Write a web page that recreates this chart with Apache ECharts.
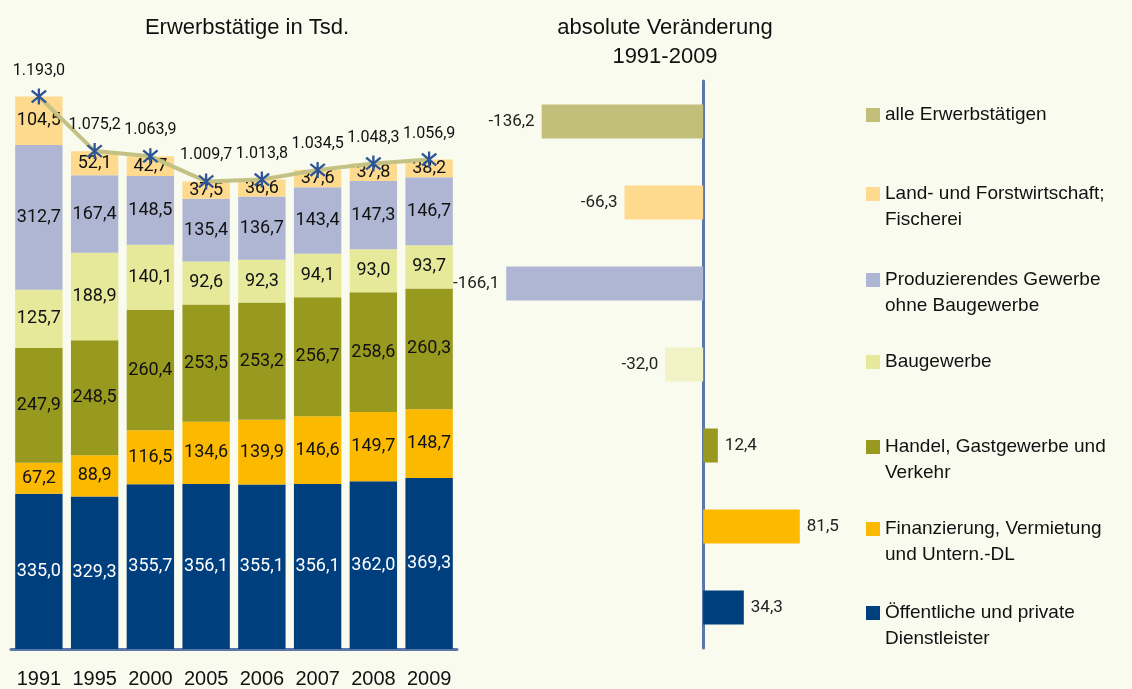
<!DOCTYPE html>
<html>
<head>
<meta charset="utf-8">
<title>Erwerbstätige</title>
<script src="https://cdn.jsdelivr.net/npm/echarts@6/dist/echarts.min.js"></script>
<style>
  html, body { margin: 0; padding: 0; background: #fafbef; }
  #chart { width: 1132px; height: 689px; }
</style>
</head>
<body>
<div id="chart"></div>
<script>
// Jahre
const years = ['1991', '1995', '2000', '2005', '2006', '2007', '2008', '2009']

// Erwerbstätige in Tsd. nach Wirtschaftsbereich (von unten nach oben gestapelt)
const oeffentlich = [335.0, 329.3, 355.7, 356.1, 355.1, 356.1, 362.0, 369.3]
const finanzierung = [67.2, 88.9, 116.5, 134.6, 139.9, 146.6, 149.7, 148.7]
const handel = [247.9, 248.5, 260.4, 253.5, 253.2, 256.7, 258.6, 260.3]
const baugewerbe = [125.7, 188.9, 140.1, 92.6, 92.3, 94.1, 93.0, 93.7]
const produzierend = [312.7, 167.4, 148.5, 135.4, 136.7, 143.4, 147.3, 146.7]
const landwirtschaft = [104.5, 52.1, 42.7, 37.5, 36.6, 37.6, 37.8, 38.2]
const alle = [1193.0, 1075.2, 1063.9, 1009.7, 1013.8, 1034.5, 1048.3, 1056.9]

// absolute Veränderung 1991-2009
const changeNames = [
  'alle Erwerbstätigen',
  'Land- und Forstwirtschaft; Fischerei',
  'Produzierendes Gewerbe ohne Baugewerbe',
  'Baugewerbe',
  'Handel, Gastgewerbe und Verkehr',
  'Finanzierung, Vermietung und Untern.-DL',
  'Öffentliche und private Dienstleister'
]
const changeValues = [-136.2, -66.3, -166.1, -32.0, 12.4, 81.5, 34.3]
const changeColors = ['#c2bf7a', '#feda8e', '#afb6d3', '#f1f2c6', '#989a1f', '#fbba00', '#003f7d']

const fontLabel = 'Roboto, "Liberation Sans", sans-serif'
const fontText = '"Liberation Sans", Arial, sans-serif'

// deutsches Zahlenformat: 1.193,0
function fmt(v) {
  const s = Number(v).toFixed(1).split('.')
  return s[0].replace(/\B(?=(\d{3})+(?!\d))/g, '.') + ',' + s[1]
}

// Sternchen-Marker
const asterisk = 'path://M8.7,0L11.3,0L11.3,20L8.7,20Z' +
  'M1,3.6L2.8,1.6L19,16.4L17.2,18.4Z' +
  'M17.2,1.6L19,3.6L2.8,18.4L1,16.4Z'

function stackSeries(name, data, color, labelColor) {
  return {
    name: name,
    type: 'bar',
    stack: 'tsd',
    xAxisIndex: 0,
    yAxisIndex: 0,
    barWidth: '85%',
    data: data,
    itemStyle: { color: color },
    label: {
      show: true,
      position: 'inside',
      color: labelColor || '#111',
      fontSize: 18,
      fontFamily: fontLabel,
      formatter: p => fmt(p.value)
    }
  }
}

// Legende: eine Komponente je Eintrag, damit die Zeilen zu den Balken rechts passen
const legendItems = [
  { name: 'alle Erwerbstätigen', text: 'alle Erwerbstätigen', top: 102, color: '#c2bf7a' },
  { name: 'Land- und Forstwirtschaft; Fischerei', text: '\nLand- und Forstwirtschaft;\nFischerei', top: 155 },
  { name: 'Produzierendes Gewerbe ohne Baugewerbe', text: '\nProduzierendes Gewerbe\nohne Baugewerbe', top: 241 },
  { name: 'Baugewerbe', text: 'Baugewerbe', top: 349 },
  { name: 'Handel, Gastgewerbe und Verkehr', text: '\nHandel, Gastgewerbe und\nVerkehr', top: 408 },
  { name: 'Finanzierung, Vermietung und Untern.-DL', text: '\nFinanzierung, Vermietung\nund Untern.-DL', top: 490 },
  { name: 'Öffentliche und private Dienstleister', text: '\nÖffentliche und private\nDienstleister', top: 574 }
]

const chart = echarts.init(document.getElementById('chart'))

chart.setOption({
  backgroundColor: '#fafbef',
  animation: false,
  title: [{
    text: 'Erwerbstätige in Tsd.',
    left: 247,
    top: 15,
    textAlign: 'center',
    padding: 0,
    textStyle: { fontSize: 22, fontWeight: 'normal', color: '#111', fontFamily: fontText, lineHeight: 26 }
  }, {
    text: 'absolute Veränderung\n1991-2009',
    left: 665,
    top: 13,
    textAlign: 'center',
    padding: 0,
    textStyle: { fontSize: 22, fontWeight: 'normal', color: '#111', fontFamily: fontText, lineHeight: 29 }
  }],
  legend: legendItems.map(it => ({
    left: 866,
    top: it.top,
    padding: 0,
    orient: 'vertical',
    icon: 'rect',
    itemWidth: 14,
    itemHeight: 14,
    selectedMode: false,
    data: [it.color ? { name: it.name, icon: 'rect', itemStyle: { color: it.color } } : it.name],
    formatter: () => it.text,
    textStyle: { fontSize: 19, lineHeight: 26, color: '#111', fontFamily: fontText }
  })),
  grid: [
    { left: 11, right: 675, top: 47, bottom: 39 },
    { left: 466, right: 251, top: 81, bottom: 41 }
  ],
  xAxis: [{
    type: 'category',
    gridIndex: 0,
    data: years,
    axisLine: { lineStyle: { color: '#5b76a8', width: 3 } },
    axisTick: { show: false },
    axisLabel: { interval: 0, hideOverlap: false, fontSize: 20, color: '#111', margin: 20, fontFamily: fontText }
  }, {
    type: 'value',
    gridIndex: 1,
    min: -200,
    max: 150,
    show: false
  }],
  yAxis: [{
    type: 'value',
    gridIndex: 0,
    min: 0,
    max: 1300,
    show: false
  }, {
    type: 'category',
    gridIndex: 1,
    inverse: true,
    data: changeNames,
    axisLine: { onZero: true, lineStyle: { color: '#5b76a8', width: 3 } },
    axisTick: { show: false },
    axisLabel: { show: false }
  }],
  series: [
    stackSeries('Öffentliche und private Dienstleister', oeffentlich, '#003f7d', '#fff'),
    stackSeries('Finanzierung, Vermietung und Untern.-DL', finanzierung, '#fbba00'),
    stackSeries('Handel, Gastgewerbe und Verkehr', handel, '#989a1f'),
    stackSeries('Baugewerbe', baugewerbe, '#e6e89a'),
    stackSeries('Produzierendes Gewerbe ohne Baugewerbe', produzierend, '#afb6d3'),
    stackSeries('Land- und Forstwirtschaft; Fischerei', landwirtschaft, '#feda8e'),
    {
      name: 'alle Erwerbstätigen',
      type: 'line',
      xAxisIndex: 0,
      yAxisIndex: 0,
      data: alle,
      z: 5,
      symbol: asterisk,
      symbolSize: 16,
      lineStyle: { color: '#c4c184', width: 4 },
      itemStyle: { color: '#2c5599' },
      label: {
        show: true,
        position: 'top',
        distance: 10,
        color: '#111',
        fontSize: 16,
        fontFamily: fontLabel,
        formatter: p => fmt(p.value)
      }
    },
    {
      name: 'absolute Veränderung 1991-2009',
      type: 'bar',
      xAxisIndex: 1,
      yAxisIndex: 1,
      barWidth: '42%',
      data: changeValues.map((v, i) => ({
        value: v,
        itemStyle: { color: changeColors[i] },
        label: { position: v < 0 ? 'left' : 'right' }
      })),
      label: {
        show: true,
        distance: 7,
        color: '#222',
        fontSize: 17,
        fontFamily: fontLabel,
        formatter: p => fmt(p.value)
      }
    }
  ]
})
</script>
</body>
</html>
